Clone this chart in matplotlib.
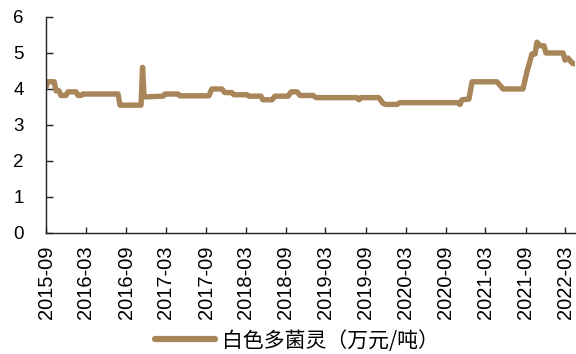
import matplotlib
matplotlib.use("Agg")
import matplotlib.pyplot as plt
import pandas as pd

# Carbendazim price (10k CNY / tonne), change points of the weekly quote
dates = [
    "2015-09-01", "2015-09-08", "2015-10-08", "2015-10-16", "2015-10-30",
    "2015-11-08", "2015-12-01", "2015-12-10", "2016-01-16", "2016-01-25",
    "2016-02-08", "2016-02-17", "2016-07-26", "2016-08-04", "2016-11-08",
    "2016-11-15", "2016-11-22", "2017-02-17", "2017-02-26", "2017-04-26",
    "2017-05-05", "2017-09-14", "2017-09-28", "2017-11-12", "2017-11-26",
    "2017-12-28", "2018-01-06", "2018-03-07", "2018-03-17", "2018-05-10",
    "2018-05-19", "2018-06-30", "2018-07-13", "2018-09-11", "2018-09-25",
    "2018-10-22", "2018-11-05", "2019-01-03", "2019-01-17", "2019-07-23",
    "2019-08-01", "2019-08-10", "2019-10-31", "2019-11-19", "2019-12-02",
    "2020-01-22", "2020-02-04", "2020-10-27", "2020-11-05", "2020-11-14",
    "2020-12-16", "2020-12-30", "2021-04-23", "2021-05-07", "2021-05-21",
    "2021-08-20", "2021-09-08", "2021-09-30", "2021-10-14", "2021-10-23",
    "2021-11-06", "2021-11-24", "2021-12-03", "2022-02-19", "2022-02-28",
    "2022-03-14", "2022-04-01", "2022-04-10",
]
prices = [
    4.05, 4.2, 4.2, 3.95, 3.95,
    3.82, 3.82, 3.92, 3.92, 3.82,
    3.82, 3.86, 3.86, 3.55, 3.55,
    4.6, 3.78, 3.8, 3.86, 3.86,
    3.81, 3.81, 4.0, 4.0, 3.9,
    3.9, 3.84, 3.84, 3.8, 3.8,
    3.7, 3.7, 3.8, 3.8, 3.92,
    3.92, 3.82, 3.82, 3.76, 3.76,
    3.7, 3.76, 3.76, 3.6, 3.57,
    3.57, 3.62, 3.62, 3.57, 3.7,
    3.72, 4.2, 4.2, 4.1, 4.0,
    4.0, 4.5, 4.97, 4.97, 5.3,
    5.2, 5.2, 5.0, 5.0, 4.8,
    4.86, 4.72, 4.7,
]
tick_labels = [
    "2015-09", "2016-03", "2016-09", "2017-03", "2017-09", "2018-03", "2018-09",
    "2019-03", "2019-09", "2020-03", "2020-09", "2021-03", "2021-09", "2022-03",
]
series_name = "白色多菌灵（万元/吨）"
line_color = "#A98659"

x = pd.to_datetime(dates)
ticks = pd.to_datetime([t + "-01" for t in tick_labels])

plt.rcParams["font.family"] = ["Liberation Sans", "DejaVu Sans"]

fig = plt.figure(figsize=(5.76, 3.54), dpi=100)
ax = fig.add_axes([0.08, 0.342, 0.918, 0.61])

ax.plot(x, prices, color=line_color, lw=3.9, solid_capstyle="round",
        solid_joinstyle="round", label=series_name)

ax.set_ylim(0, 6)
ax.set_yticks(range(0, 7))
ax.set_xlim(pd.Timestamp("2015-09-01"), pd.Timestamp("2022-04-14"))
ax.set_xticks(ticks)
ax.set_xticklabels(tick_labels, rotation=90)

for side in ("top", "right"):
    ax.spines[side].set_visible(False)
for side in ("left", "bottom"):
    ax.spines[side].set_linewidth(1.0)
    ax.spines[side].set_color("#222222")

ax.tick_params(axis="y", direction="in", length=5, width=1, labelsize=13.5,
               pad=16, colors="#222222")
ax.tick_params(axis="x", direction="in", length=4.5, width=1, labelsize=14.5,
               pad=9, colors="#222222")
for lab in ax.get_yticklabels() + ax.get_xticklabels():
    lab.set_color("black")

leg = fig.legend(loc="center", bbox_to_anchor=(0.515, 0.038), frameon=False,
                 handlelength=2.9, handletextpad=0.3,
                 prop={"family": ["Noto Sans CJK SC", "DejaVu Sans"],
                       "size": 15, "weight": "light"})
for h in leg.get_lines():
    h.set_linewidth(4.5)

fig.savefig("out.png", dpi=100)
